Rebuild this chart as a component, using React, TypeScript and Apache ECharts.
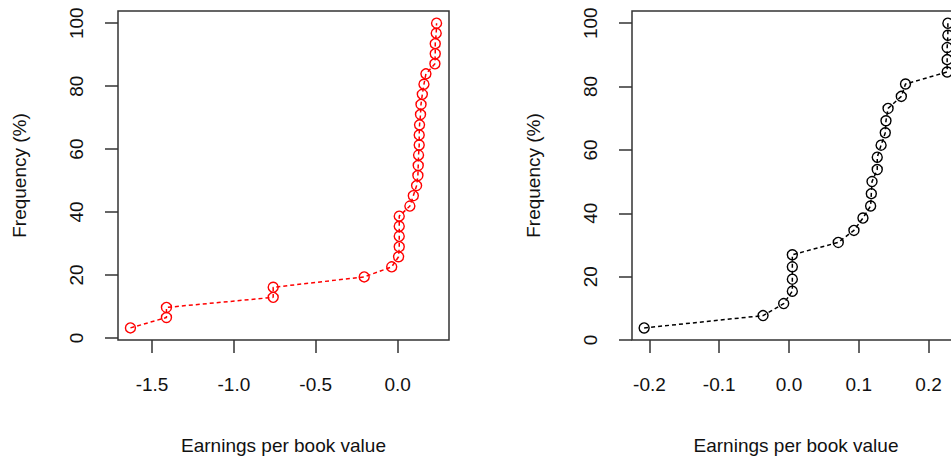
import React, { useEffect, useRef } from "react";
import * as echarts from "echarts";

// Left panel (red): earnings per book value, cumulative frequency (%)
const leftX = [
  -1.632, -1.412, -1.412, -0.76, -0.76, -0.204, -0.036, 0.006, 0.01, 0.01, 0.01,
  0.01, 0.075, 0.096, 0.116, 0.124, 0.126, 0.128, 0.132, 0.132, 0.134, 0.14,
  0.143, 0.151, 0.161, 0.173, 0.228, 0.23, 0.23, 0.236, 0.238,
];
const leftY = [
  3.2, 6.5, 9.7, 12.9, 16.1, 19.4, 22.6, 25.8, 29.0, 32.3, 35.5, 38.7, 41.9,
  45.2, 48.4, 51.6, 54.8, 58.1, 61.3, 64.5, 67.7, 71.0, 74.2, 77.4, 80.6, 83.9,
  87.1, 90.3, 93.5, 96.8, 100,
];

// Right panel (black)
const rightX = [
  -0.2076, -0.0372, -0.0076, 0.0048, 0.0048, 0.0048, 0.0048, 0.0706, 0.0931,
  0.106, 0.117, 0.118, 0.119, 0.1265, 0.1265, 0.132, 0.138, 0.139, 0.142, 0.161,
  0.167, 0.2267, 0.2267, 0.2267, 0.2277, 0.2277,
];
const rightY = [
  3.8, 7.7, 11.5, 15.4, 19.2, 23.1, 26.9, 30.8, 34.6, 38.5, 42.3, 46.2, 50.0,
  53.8, 57.7, 61.5, 65.4, 69.2, 73.1, 76.9, 80.8, 84.6, 88.5, 92.3, 96.2, 100,
];

const leftXTicks = [-1.5, -1.0, -0.5, 0.0];
const rightXTicks = [-0.2, -0.1, 0.0, 0.1, 0.2];
const yTicks = [0, 20, 40, 60, 80, 100];

const xTitle = "Earnings per book value";
const yTitle = "Frequency (%)";

const FONT = "'Liberation Sans', Arial, sans-serif";
const TEXT = "#111";
const AXC = "#333";

function xAxisOf(gridIndex: number, min: number, max: number, ticks: number[]) {
  return {
    type: "value",
    gridIndex,
    min,
    max,
    position: "bottom",
    splitLine: { show: false },
    axisLine: { show: false, onZero: false },
    axisTick: {
      show: true,
      length: 13,
      customValues: ticks,
      lineStyle: { color: AXC, width: 1.5 },
    },
    axisLabel: {
      show: true,
      customValues: ticks,
      margin: 35,
      fontSize: 19,
      fontFamily: FONT,
      color: TEXT,
      formatter: (v: number) => v.toFixed(1),
    },
    name: xTitle,
    nameLocation: "middle",
    nameGap: 96,
    nameTextStyle: { fontSize: 19, fontFamily: FONT, color: TEXT },
  };
}

function yAxisOf(gridIndex: number, min: number, max: number) {
  return {
    type: "value",
    gridIndex,
    min,
    max,
    position: "left",
    splitLine: { show: false },
    axisLine: { show: false, onZero: false },
    axisTick: {
      show: true,
      length: 13,
      customValues: yTicks,
      lineStyle: { color: AXC, width: 1.5 },
    },
    axisLabel: {
      show: true,
      customValues: yTicks,
      rotate: 90,
      margin: 32,
      fontSize: 19,
      fontFamily: FONT,
      color: TEXT,
      formatter: (v: number) => String(Math.round(v)),
    },
    name: yTitle,
    nameLocation: "middle",
    nameGap: 89,
    nameRotate: 90,
    nameTextStyle: { fontSize: 19, fontFamily: FONT, color: TEXT },
  };
}

function seriesOf(idx: number, xs: number[], ys: number[], color: string) {
  return {
    type: "line",
    xAxisIndex: idx,
    yAxisIndex: idx,
    data: xs.map((x, i) => [x, ys[i]]),
    symbol: "circle",
    symbolSize: 10,
    showSymbol: true,
    itemStyle: { color: "rgba(0,0,0,0)", borderColor: color, borderWidth: 1.4 },
    lineStyle: { color, width: 1.5, type: [4, 3] },
    emphasis: { disabled: true },
    z: 3,
  };
}

export default function App() {
  const ref = useRef<HTMLDivElement>(null);
  useEffect(() => {
    if (!ref.current) return;
    const chart = echarts.init(ref.current, null, { renderer: "svg" });
    chart.setOption({
      animation: false,
      backgroundColor: "#fff",
      grid: [
        {
          left: 118,
          top: 11,
          width: 331,
          height: 329,
          show: true,
          borderColor: AXC,
          borderWidth: 1.5,
          backgroundColor: "transparent",
        },
        {
          left: 632,
          top: 11,
          width: 328,
          height: 329,
          show: true,
          borderColor: AXC,
          borderWidth: 1.5,
          backgroundColor: "transparent",
        },
      ],
      xAxis: [
        xAxisOf(0, -1.708, 0.314, leftXTicks),
        xAxisOf(1, -0.225, 0.2451, rightXTicks),
      ],
      yAxis: [yAxisOf(0, -0.645, 103.87), yAxisOf(1, 0, 103.85)],
      series: [
        seriesOf(0, leftX, leftY, "#ff0000"),
        seriesOf(1, rightX, rightY, "#000000"),
      ],
    });
    return () => chart.dispose();
  }, []);
  return (
    <div
      style={{
        position: "absolute",
        left: 0,
        top: 0,
        width: 951,
        height: 462,
        overflow: "hidden",
        background: "#fff",
      }}
    >
      <div ref={ref} style={{ width: 975, height: 462 }} />
    </div>
  );
}
